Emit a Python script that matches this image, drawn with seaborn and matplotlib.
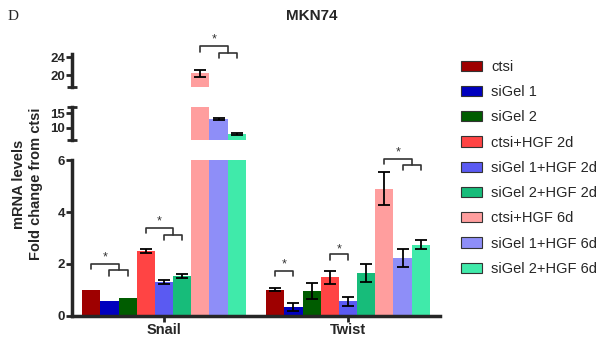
import numpy as np
import pandas as pd
import matplotlib
matplotlib.use("Agg")
import matplotlib.pyplot as plt
import seaborn as sns

# ---------------- data ----------------
genes = ["Snail", "Twist"]
conditions = ["ctsi", "siGel 1", "siGel 2",
              "ctsi+HGF 2d", "siGel 1+HGF 2d", "siGel 2+HGF 2d",
              "ctsi+HGF 6d", "siGel 1+HGF 6d", "siGel 2+HGF 6d"]
snail_values = [1.0, 0.59, 0.70, 2.51, 1.32, 1.54, 20.4, 13.0, 7.7]
snail_errors = [0, 0, 0, 0.07, 0.07, 0.08, 0.78, 0.5, 0.4]
twist_values = [1.01, 0.34, 0.97, 1.49, 0.57, 1.65, 4.89, 2.24, 2.75]
twist_errors = [0.05, 0.15, 0.30, 0.26, 0.18, 0.36, 0.63, 0.35, 0.16]
colors = ["#9e0000", "#0000be", "#005c00",
          "#ff4444", "#5a5af2", "#17bc7a",
          "#ff9e9e", "#8e8ef8", "#40eaaa"]
yticks_bottom = [0, 2, 4, 6]
yticks_middle = [10, 15]
yticks_top = [20, 24]

# significance brackets:
# (gene idx, bar a, bars b, main y, left-leg end, sub y, sub-leg end, star y, segment)
brackets = [
    (0, 0, (1, 2), 2.00, 1.80, 1.77, 1.55, 2.40, "bottom"),
    (0, 3, (4, 5), 3.38, 3.19, 3.10, 2.92, 3.78, "bottom"),
    (0, 6, (7, 8), 26.6, 25.1, 25.0, 23.8, 28.7, "top"),
    (1, 0, (1,), 1.75, 1.55, None, None, 2.10, "bottom"),
    (1, 3, (4,), 2.37, 2.15, None, None, 2.70, "bottom"),
    (1, 6, (7, 8), 6.05, 5.84, 5.80, 5.60, 6.43, "bottom"),
]

df = pd.DataFrame({
    "gene": [g for g in genes for _ in conditions],
    "condition": conditions * len(genes),
    "value": snail_values + twist_values,
})
errors = {"Snail": snail_errors, "Twist": twist_errors}

# ---------------- figure ----------------
sns.set_style("white")
plt.rcParams["font.family"] = ["Liberation Sans", "DejaVu Sans"]

W, H = 601, 345
fig = plt.figure(figsize=(W / 100, H / 100), dpi=100)

def px_axes(x0, x1, ytop, ybot):
    return fig.add_axes([x0 / W, 1 - ybot / H, (x1 - x0) / W, (ybot - ytop) / H])

ax_bot = px_axes(72, 440, 160, 316)
ax_mid = px_axes(72, 440, 107, 140)
ax_top = px_axes(72, 440, 54, 87)

limits = {"bottom": (0, 6), "middle": (5.7, 17.2), "top": (17.35, 24.75)}
axes = {"bottom": ax_bot, "middle": ax_mid, "top": ax_top}
ticks = {"bottom": yticks_bottom, "middle": yticks_middle, "top": yticks_top}

bar_centers = {}
for name, ax in axes.items():
    sns.barplot(data=df, x="gene", y="value", hue="condition",
                hue_order=conditions, order=genes, palette=colors,
                width=0.89, saturation=1, errorbar=None, linewidth=0,
                ax=ax, legend=(name == "bottom"))
    bar_conts = list(ax.containers)
    lo, hi = limits[name]
    # error bars on top of seaborn bars (only in the segment holding the bar top)
    for ci, cont in enumerate(bar_conts):
        for gi, bar in enumerate(cont.patches):
            xc = bar.get_x() + bar.get_width() / 2
            h = bar.get_height()
            bar_centers[(gi, ci)] = xc
            e = errors[genes[gi]][ci]
            if e > 0 and lo <= h <= hi:
                ax.errorbar(xc, h, yerr=e, color="black", lw=1.3,
                            capsize=4, capthick=1.3, fmt="none", zorder=5)
    ax.set_ylim(lo, hi)
    ax.set_xlim(-0.5, 1.5)
    ax.set_yticks(ticks[name])
    ax.set_ylabel("")
    ax.set_xlabel("")
    for s in ["top", "right"]:
        ax.spines[s].set_visible(False)
    ax.spines["left"].set_linewidth(2.5)
    ax.tick_params(axis="y", which="both", left=True, direction="out",
                   length=4, width=2, pad=1, labelsize=9.5)
    for lab in ax.get_yticklabels():
        lab.set_fontweight("bold")
    if name != "bottom":
        ax.spines["bottom"].set_visible(False)
        ax.set_xticks([])
        ends = [lo, hi] if name == "middle" else [lo]
        ax.set_yticks(ends, minor=True)
        ax.tick_params(axis="y", which="minor", left=True, direction="inout",
                       length=7, width=2)
    ax.patch.set_alpha(0)

ax_bot.spines["bottom"].set_linewidth(2.5)
ax_bot.tick_params(axis="x", bottom=True, direction="out", length=4, width=2,
                   pad=1, labelsize=10.5)
for lab in ax_bot.get_xticklabels():
    lab.set_fontweight("bold")

# legend
leg = ax_bot.get_legend()
handles = leg.legend_handles
labels = [t.get_text() for t in leg.get_texts()]
leg.remove()
for hnd in handles:
    hnd.set_edgecolor("#333333")
    hnd.set_linewidth(0.8)
fig.legend(handles, labels, loc="upper left",
           bbox_to_anchor=(461 / W, 1 - 60 / H), frameon=False,
           fontsize=10.5, handlelength=1.45, handleheight=0.7,
           handletextpad=0.6, labelspacing=0.77, borderpad=0,
           borderaxespad=0)

# significance brackets
bk = dict(color="#333333", lw=1.2, clip_on=False, zorder=6)
for gi, a, bs, main, leg_end, sub, sub_end, star, seg in brackets:
    ax = axes[seg]
    xa = bar_centers[(gi, a)]
    if len(bs) == 1:
        xb = bar_centers[(gi, bs[0])]
        ax.plot([xa, xa, xb, xb], [leg_end, main, main, leg_end], **bk)
        xs = (xa + xb) / 2
    else:
        xb = bar_centers[(gi, bs[0])]
        xc = bar_centers[(gi, bs[1])]
        xm = (xb + xc) / 2
        ax.plot([xa, xa, xm, xm], [leg_end, main, main, sub], **bk)
        ax.plot([xb, xb, xc, xc], [sub_end, sub, sub, sub_end], **bk)
        xs = (xa + xm) / 2
    ax.annotate("*", (xs, star), xytext=(0, -2.5), textcoords="offset points",
                ha="center", va="center", fontsize=9, color="#333333",
                annotation_clip=False)

# titles and labels
fig.text(312 / W, 1 - 16 / H, "MKN74", ha="center", va="center",
         fontsize=11, fontweight="bold")
fig.text(13 / W, 1 - 17 / H, "D", ha="center", va="center", fontsize=11,
         family=["Liberation Serif", "DejaVu Serif"])
fig.text(27.5 / W, 1 - 184 / H, "mRNA levels\nFold change from ctsi",
         rotation=90, ha="center", va="center", multialignment="center",
         fontsize=10.5, fontweight="bold", linespacing=1.3)

fig.savefig("out.png", dpi=100)
